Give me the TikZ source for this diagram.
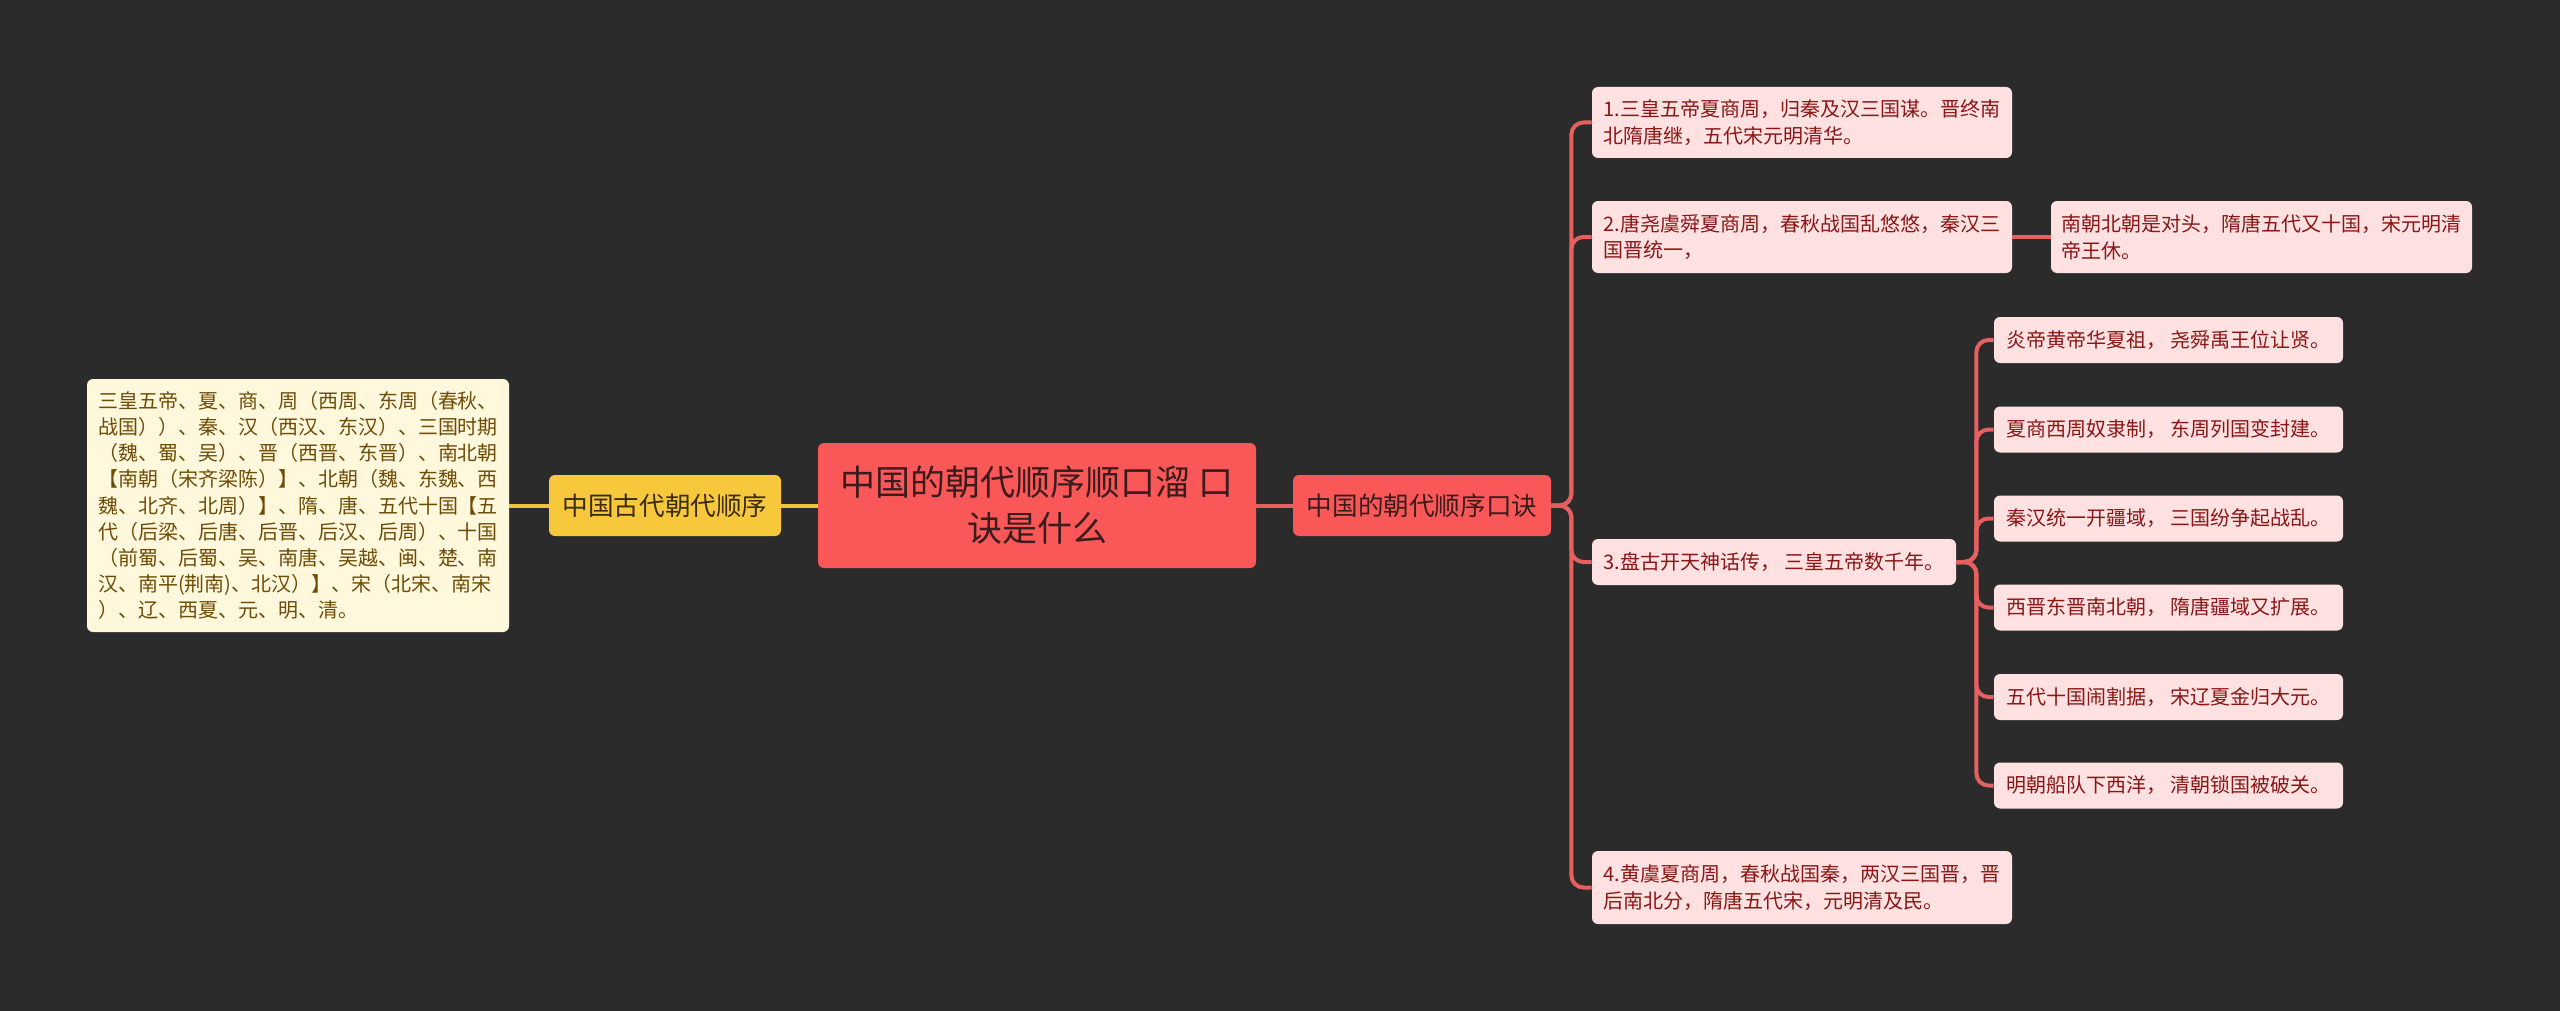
\documentclass[tikz,border=0pt]{standalone}
\usepackage{fontspec}
\newfontfamily\cjk{Noto Sans CJK SC}
\definecolor{bgdark}{HTML}{2B2B2B}
\definecolor{rootred}{HTML}{FA5858}
\definecolor{rootink}{HTML}{3A1C1C}
\definecolor{itemfill}{HTML}{FFE1E1}
\definecolor{itemink}{HTML}{8A1616}
\definecolor{linered}{HTML}{E66060}
\definecolor{goldfill}{HTML}{F8C83C}
\definecolor{goldink}{HTML}{3A2C0A}
\definecolor{goldline}{HTML}{F2C23C}
\definecolor{creamfill}{HTML}{FFF8DC}
\definecolor{creamink}{HTML}{6E4C08}
\begin{document}
\begin{tikzpicture}[x=0.5pt,y=-0.5pt,
  box/.style={rectangle, rounded corners=3pt, inner sep=0pt, align=left},
  rootbox/.style={box, fill=rootred, text=rootink, align=center,
    font={\cjk\fontsize{17.5}{23}\selectfont}},
  mainbox/.style={box, fill=rootred, text=rootink, font={\cjk\fontsize{12.8}{16}\selectfont}},
  goldbox/.style={box, fill=goldfill, text=goldink, font={\cjk\fontsize{12.8}{16}\selectfont}},
  creambox/.style={box, fill=creamfill, text=creamink, font={\cjk\fontsize{10}{13.1}\selectfont}},
  itembox/.style={box, fill=itemfill, text=itemink, font={\cjk\fontsize{10}{13.4}\selectfont}},
  redline/.style={draw=linered, line width=2pt, rounded corners=6pt},
  goldwire/.style={draw=goldline, line width=2pt}]
\useasboundingbox (0,0) rectangle (2560,1011);
\fill[bgdark] (0,0) rectangle (2560,1011);

\node[rootbox, minimum width=219pt, minimum height=62.5pt] (root) at (1037,505.5)
  {中国的朝代顺序顺口溜 口\\诀是什么};
\node[mainbox, minimum width=129pt, minimum height=30.5pt] (koujue) at (1422,505.5) {中国的朝代顺序口诀};
\node[goldbox, minimum width=116pt, minimum height=30.5pt] (gudai) at (665,505.5) {中国古代朝代顺序};
\node[creambox, minimum width=211pt, minimum height=126.5pt] (shunxu) at (298,505.5)
  {三皇五帝、夏、商、周（西周、东周（春秋、\\
   战国））、秦、汉（西汉、东汉）、三国时期\\
   （魏、蜀、吴）、晋（西晋、东晋）、南北朝\\
   【南朝（宋齐梁陈）】、北朝（魏、东魏、西\\
   魏、北齐、北周）】、隋、唐、五代十国【五\\
   代（后梁、后唐、后晋、后汉、后周）、十国\\
   （前蜀、后蜀、吴、南唐、吴越、闽、楚、南\\
   汉、南平(荆南)、北汉）】、宋（北宋、南宋\\
   ）、辽、西夏、元、明、清。};

% right side
\node[itembox, minimum width=210pt, minimum height=35.5pt] (kj1) at (1802,122.5)
  {1.三皇五帝夏商周，归秦及汉三国谋。晋终南\\北隋唐继，五代宋元明清华。};
\node[itembox, minimum width=210pt, minimum height=36pt] (kj2) at (1802,237)
  {2.唐尧虞舜夏商周，春秋战国乱悠悠，秦汉三\\国晋统一，};
\node[itembox, minimum width=210.5pt, minimum height=36pt] (nanbei) at (2261.5,237)
  {南朝北朝是对头，隋唐五代又十国，宋元明清\\帝王休。};
\node[itembox, minimum width=182pt, minimum height=23pt] (kj3) at (1774,562)
  {3.盘古开天神话传， 三皇五帝数千年。};
\node[itembox, minimum width=210pt, minimum height=36.5pt] (kj4) at (1802,887.5)
  {4.黄虞夏商周，春秋战国秦，两汉三国晋，晋\\后南北分，隋唐五代宋，元明清及民。};

\node[itembox, minimum width=174.5pt, minimum height=23pt] (ge1) at (2168.5,340) {炎帝黄帝华夏祖， 尧舜禹王位让贤。};
\node[itembox, minimum width=174.5pt, minimum height=23pt] (ge2) at (2168.5,429.5) {夏商西周奴隶制， 东周列国变封建。};
\node[itembox, minimum width=174.5pt, minimum height=23pt] (ge3) at (2168.5,518.5) {秦汉统一开疆域， 三国纷争起战乱。};
\node[itembox, minimum width=174.5pt, minimum height=23pt] (ge4) at (2168.5,607.5) {西晋东晋南北朝， 隋唐疆域又扩展。};
\node[itembox, minimum width=174.5pt, minimum height=23pt] (ge5) at (2168.5,697) {五代十国闹割据， 宋辽夏金归大元。};
\node[itembox, minimum width=174.5pt, minimum height=23pt] (ge6) at (2168.5,785.5) {明朝船队下西洋， 清朝锁国被破关。};

% connectors
\draw[goldwire] (gudai.east) -- (root.west);
\draw[goldwire] (gudai.west) -- (shunxu.east);
\draw[redline] (root.east) -- (koujue.west);
\foreach \k in {kj1,kj2,kj3,kj4}
  \draw[redline] (koujue.east) -- ++(20,0) |- (\k.west);
\draw[redline] (kj2.east) -- (nanbei.west);
\foreach \k in {ge1,ge2,ge3,ge4,ge5,ge6}
  \draw[redline] (kj3.east) -- ++(20,0) |- (\k.west);
\end{tikzpicture}
\end{document}
